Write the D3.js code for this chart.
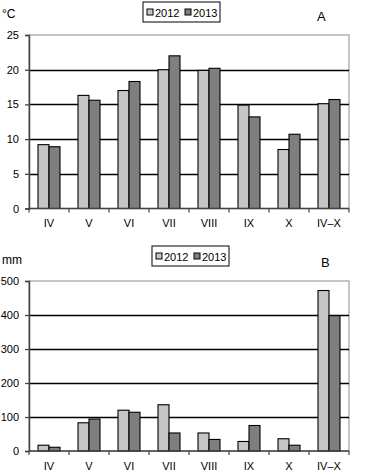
<!DOCTYPE html>
<html><head><meta charset="utf-8">
<script src="https://cdn.jsdelivr.net/npm/d3@7"></script>
<style>
body{margin:0;background:#fff;}
text{font-family:"Liberation Sans",Arial,sans-serif;fill:#000;}
</style></head>
<body>
<svg id="c" width="366" height="475"></svg>
<script>
const categories = ["IV","V","VI","VII","VIII","IX","X","IV–X"];
const seriesNames = ["2012","2013"];
const temp2012 = [9.2,16.3,17.0,20.0,19.9,14.9,8.5,15.1];
const temp2013 = [8.9,15.6,18.3,22.0,20.2,13.2,10.7,15.7];
const precip2012 = [17,83,120,136,53,28,36,472];
const precip2013 = [11,94,114,53,34,75,17,398];
const tempTicks = [0,5,10,15,20,25];
const precipTicks = [0,100,200,300,400,500];
const colors = ["#c6c6c6","#7f7f7f"];

const svg = d3.select("#c");

function panel(cfg){
  const {left,right,top,bottom,values,ticks,max,unit,letter,legendX,legendY,letterX,labelDy} = cfg;
  const g = svg.append("g");
  const x = d3.scaleBand().domain(categories).range([left,right]).paddingInner(0.45).paddingOuter(0.225);
  const xs = d3.scaleBand().domain(seriesNames).range([0,x.bandwidth()]);
  const y = d3.scaleLinear().domain([0,max]).range([bottom,top]);
  g.append("rect").attr("x",left).attr("y",top).attr("width",right-left).attr("height",bottom-top)
    .attr("fill","#fff").attr("stroke","#a0a0a0").attr("stroke-width",1.2);
  g.selectAll("line.grid").data(ticks.filter(t=>t>0&&t<max)).enter().append("line")
    .attr("x1",left).attr("x2",right).attr("y1",d=>Math.round(y(d))+0.5).attr("y2",d=>Math.round(y(d))+0.5)
    .attr("stroke","#000").attr("stroke-width",1.3);
  categories.forEach((c,i)=>{
    seriesNames.forEach((s,j)=>{
      const v = values[j][i];
      g.append("rect").attr("x",x(c)+xs(s)).attr("y",y(v)).attr("width",xs.bandwidth()).attr("height",y(0)-y(v))
        .attr("fill",colors[j]).attr("stroke","#000").attr("stroke-width",1.1);
    });
  });
  const ya = g.append("g").attr("transform",`translate(${left},0)`)
    .call(d3.axisLeft(y).tickValues(ticks).tickSize(4).tickPadding(6));
  ya.select(".domain").attr("stroke","#444").attr("stroke-width",1.5);
  ya.selectAll(".tick line").attr("stroke","#444").attr("stroke-width",1.3);
  ya.selectAll("text").attr("font-size","11px").attr("font-family","Liberation Sans, Arial, sans-serif");
  g.append("line").attr("x1",left).attr("x2",right).attr("y1",bottom).attr("y2",bottom).attr("stroke","#444").attr("stroke-width",1.5);
  const bounds = d3.range(categories.length+1).map(i=>left+i*x.step());
  g.selectAll("line.xt").data(bounds).enter().append("line")
    .attr("x1",d=>d).attr("x2",d=>d).attr("y1",bottom).attr("y2",bottom+4).attr("stroke","#444").attr("stroke-width",1.2);
  g.selectAll("text.xl").data(categories).enter().append("text")
    .attr("x",d=>x(d)+x.bandwidth()/2).attr("y",bottom+labelDy).attr("text-anchor","middle")
    .attr("font-size","11px").text(d=>d);
  g.append("text").attr("x",2).attr("y",top-17).attr("font-size","12px").text(unit);
  g.append("text").attr("x",letterX).attr("y",top-14).attr("font-size","13px").text(letter);
  const lg = g.append("g").attr("transform",`translate(${legendX},${legendY})`);
  lg.append("rect").attr("x",0).attr("y",0).attr("width",77).attr("height",20).attr("fill","#fff").attr("stroke","#000").attr("stroke-width",1);
  seriesNames.forEach((s,j)=>{
    const ox = 4 + j*38;
    lg.append("rect").attr("x",ox).attr("y",7).attr("width",6).attr("height",6).attr("fill",colors[j]).attr("stroke","#000").attr("stroke-width",1);
    lg.append("text").attr("x",ox+8).attr("y",14.5).attr("font-size","11px").text(s);
  });
}

panel({left:29,right:349,top:35,bottom:208.5,values:[temp2012,temp2013],ticks:tempTicks,max:25,unit:"°C",letter:"A",legendX:143,legendY:2,letterX:317,labelDy:18});
panel({left:29,right:349,top:281,bottom:451,values:[precip2012,precip2013],ticks:precipTicks,max:500,unit:"mm",letter:"B",legendX:152,legendY:246,letterX:321,labelDy:19});
</script>
</body></html>
